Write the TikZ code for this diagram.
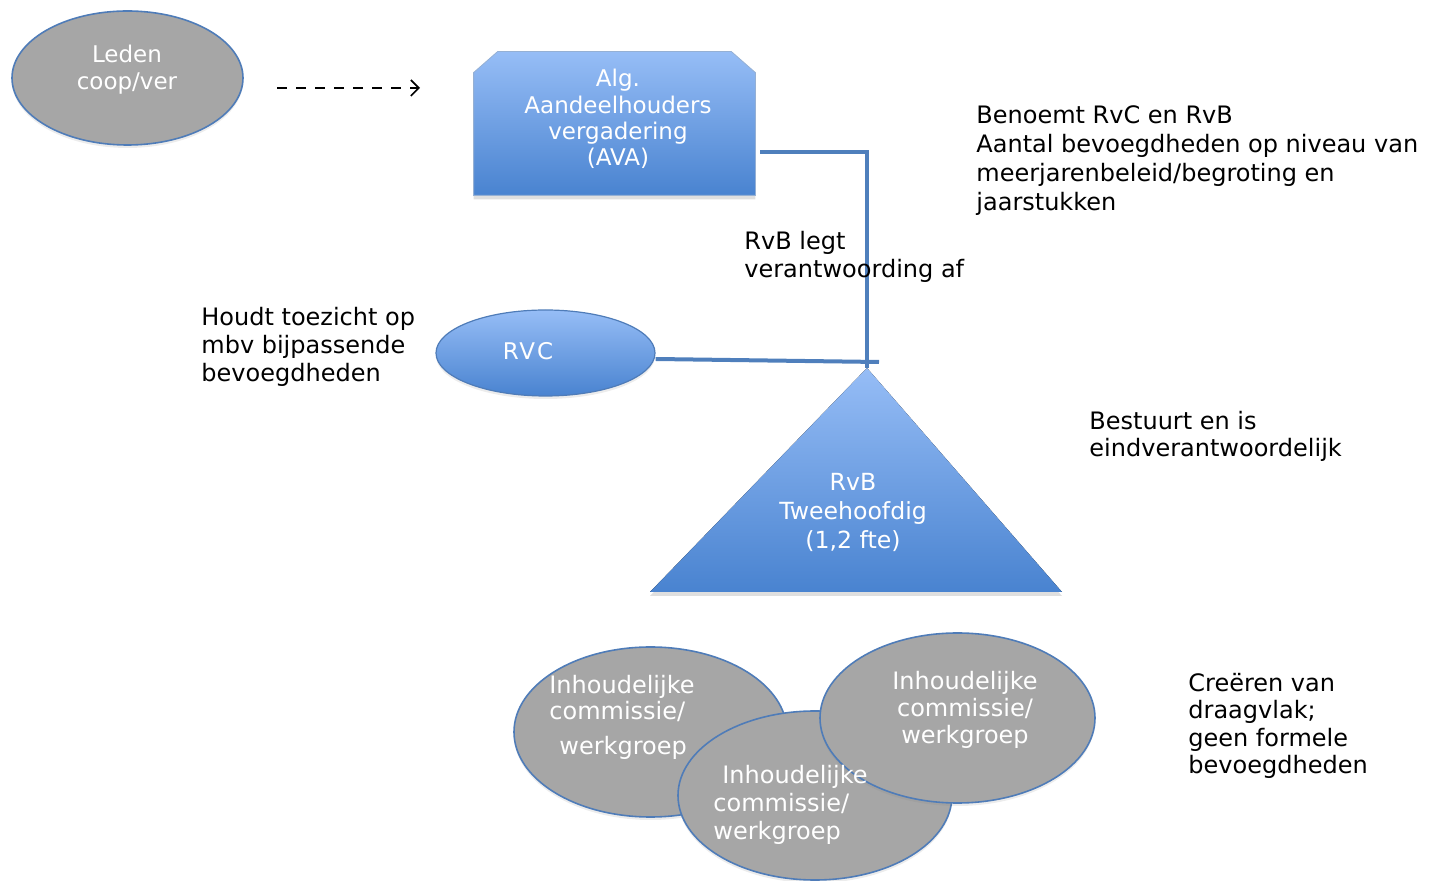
\documentclass[tikz,border=0pt]{standalone}
\usepackage{fontspec}
\setmainfont{DejaVu Sans}
\usetikzlibrary{shapes.geometric,shadows,arrows.meta}
\definecolor{rim}{HTML}{4F7CB8}
\definecolor{blobgray}{HTML}{A6A6A6}
\definecolor{skytop}{HTML}{96BDF6}
\definecolor{skybottom}{HTML}{4983D0}
\definecolor{wire}{HTML}{4F7FBC}
\tikzset{
    grayblob/.style = {ellipse, draw=rim, line width=0.8pt, fill=blobgray, inner sep=0pt,
        drop shadow={opacity=0.15, shadow xshift=0pt, shadow yshift=-1.5pt}},
    blueblob/.style = {ellipse, draw=rim, line width=0.6pt, top color=skytop, bottom color=skybottom,
        inner sep=0pt, drop shadow={opacity=0.15, shadow xshift=0pt, shadow yshift=-1.5pt}},
    bluefill/.style = {draw=rim!60, line width=0.4pt, top color=skytop, bottom color=skybottom,
        drop shadow={opacity=0.25, shadow xshift=0pt, shadow yshift=-2pt}},
    whitetxt/.style = {text=white, align=center, inner sep=0pt, font=\fontsize{11.5}{13.5}\selectfont},
    note/.style = {anchor=west, align=left, inner sep=0pt, font=\fontsize{12}{14}\selectfont},
    link/.style = {draw=wire, line width=2pt},
}

\begin{document}
\begin{tikzpicture}[x=0.5pt,y=-0.5pt]
    \useasboundingbox (0,0) rectangle (1436,881);
    \node (leden) at (127.5,78) [grayblob, minimum width=115.5pt, minimum height=67pt] {};
    \node (ledentxt) at (127,69.5) [whitetxt] {Leden\\coop/ver};
    \coordinate (dashfrom) at (277,88);
    \coordinate (dashto) at (420,88);
    \draw[line width=1pt, dash pattern=on 5pt off 4.5pt, -{Straight Barb[length=4pt,width=8pt,line width=0.8pt]}] (dashfrom) -- (dashto);

    \node (ava) at (614.5,123.5) [minimum width=140.5pt, minimum height=71.5pt, inner sep=0pt] {};
    \draw[bluefill] (ava.south west) -- ([yshift=-10.5pt]ava.north west) -- ([xshift=12pt]ava.north west)
        -- ([xshift=-12pt]ava.north east) -- ([yshift=-10.5pt]ava.north east) -- (ava.south east) -- cycle;
    \node (avatxt) at (618,119) [whitetxt, font=\fontsize{11.5}{13.2}\selectfont] {Alg.\\Aandeelhouders\\vergadering\\(AVA)};

    \node (rvc) at (545.5,353) [blueblob, minimum width=109.5pt, minimum height=43pt] {};
    \node (rvctxt) at (528,351) [whitetxt] {\addfontfeature{LetterSpace=8}RVC};

    \coordinate (apex) at (867,368);
    \fill[bluefill, draw=none] (apex) -- (1062,592) -- (650,592) -- cycle;
    \node (rvb) at (853,512) [whitetxt, font=\fontsize{11.8}{14.5}\selectfont] {RvB\\Tweehoofdig\\(1,2 fte)};

    \draw[link] ([xshift=2.5pt,yshift=-14.5pt]ava.east) -| (apex);
    \draw[link] ([yshift=-3pt]rvc.east) -- ([xshift=6pt,yshift=3pt]apex);

    \node (groupa) at (650.5,732) [grayblob, minimum width=136.5pt, minimum height=85pt] {};
    \node (groupb) at (815,795.5) [grayblob, minimum width=137pt, minimum height=84.5pt] {};
    \node (groupc) at (957.5,718) [grayblob, minimum width=137.5pt, minimum height=85pt] {};
    \node (groupatxt) at (549,717.5) [whitetxt, anchor=west, align=left, font=\fontsize{12}{13}\selectfont]
        {Inhoudelijke\\commissie/\\[4.5pt]\hspace*{5pt}werkgroep};
    \node (groupctxt) at (965,710) [whitetxt, font=\fontsize{12}{13.5}\selectfont] {Inhoudelijke\\commissie/\\werkgroep};
    \node (groupbtxt) at (713,804.5) [whitetxt, anchor=west, align=left, font=\fontsize{12}{14}\selectfont]
        {\hspace*{4.5pt}Inhoudelijke\\commissie/\\werkgroep};

    \node (benoemt) at (976,160.5) [note, font=\fontsize{12}{14.5}\selectfont]
        {Benoemt RvC en RvB\\Aantal bevoegdheden op niveau van\\meerjarenbeleid/begroting en\\jaarstukken};
    \node (legt) at (744,257) [note] {RvB legt\\verantwoording af};
    \node (toezicht) at (201,347) [note] {Houdt toezicht op\\mbv bijpassende\\bevoegdheden};
    \node (bestuurt) at (1089,436) [note, font=\fontsize{12}{13.5}\selectfont] {Bestuurt en is\\eindverantwoordelijk};
    \node (draagvlak) at (1188,726) [note, font=\fontsize{12}{13.8}\selectfont] {Creëren van\\draagvlak;\\geen formele\\bevoegdheden};
\end{tikzpicture}
\end{document}
